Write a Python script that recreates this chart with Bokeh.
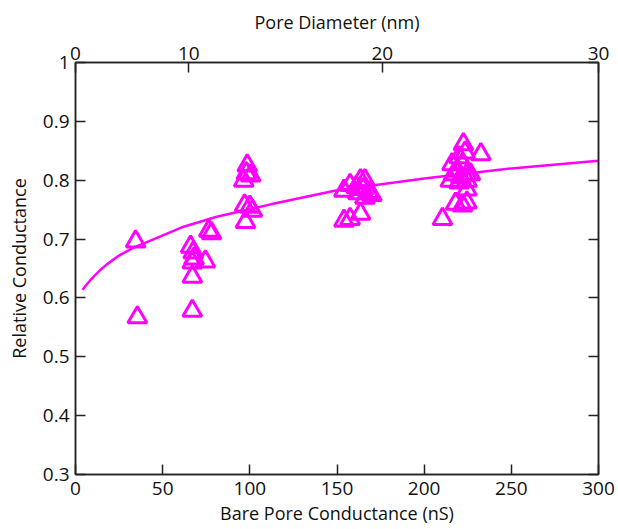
from bokeh.plotting import figure
from bokeh.models import LinearAxis, FixedTicker, Range1d, ColumnDataSource, CustomJSTickFormatter
from bokeh.embed import file_html
from bokeh.resources import INLINE

# measured points (Bare pore conductance nS, relative conductance)
gx = [34.5, 35.5, 67, 67, 66, 67.5, 68, 74.5, 76.5, 78, 67,
      98.5, 98, 100.5, 96.5, 97, 100, 101.5, 97.5,
      154, 157.5, 163.5, 154, 157.5, 163.5, 166, 161, 165, 168, 170, 166, 162,
      210.5, 218, 222, 224.5, 224.5, 222.5, 232.5, 223.5, 220, 216, 219, 222,
      217, 221, 224.5, 215, 220, 224.5, 226.5]
gy = [0.696, 0.567, 0.578, 0.636, 0.687, 0.677, 0.667, 0.662, 0.714, 0.71, 0.66,
      0.825, 0.812, 0.808, 0.799, 0.757, 0.755, 0.748, 0.729,
      0.731, 0.734, 0.743, 0.782, 0.792, 0.800, 0.800, 0.788, 0.785, 0.780, 0.775, 0.770, 0.778,
      0.734, 0.760, 0.757, 0.762, 0.784, 0.861, 0.844, 0.847, 0.839, 0.827, 0.816, 0.827,
      0.810, 0.805, 0.810, 0.799, 0.796, 0.799, 0.810]

# fit curve
fx = [4, 7, 10, 14, 18, 25, 33, 45, 62, 81, 112, 150, 200, 250, 300]
fy = [0.614, 0.625, 0.635, 0.647, 0.657, 0.672, 0.685, 0.700, 0.721, 0.738,
      0.759, 0.783, 0.803, 0.820, 0.833]

# axis ticks
x_ticks = [0, 50, 100, 150, 200, 250, 300]
y_ticks = [0.3, 0.4, 0.5, 0.6, 0.7, 0.8, 0.9, 1.0]
# top axis: pore diameter tick labels and their conductance positions
pore_labels = ["0", "10", "20", "30"]
pore_pos = [0, 65, 176, 300]

FONT = "Open Sans"
MAG = "#FF00FF"
INK = "#222222"

p = figure(width=618, height=529, output_backend="svg", toolbar_location=None,
           x_range=Range1d(0, 300), y_range=Range1d(0.3, 1.0),
           frame_width=523, frame_height=412,
           min_border_left=75, min_border_right=20, min_border_top=62, min_border_bottom=55,
           x_axis_label="Bare Pore Conductance (nS)", y_axis_label="Relative Conductance")
p.grid.visible = False
p.outline_line_color = INK
p.outline_line_width = 1.5

p.line(fx, fy, line_color=MAG, line_width=2.5)
src = ColumnDataSource(dict(x=gx, y=gy))
p.scatter("x", "y", source=src, marker="triangle", size=19, fill_color=None,
          line_color=MAG, line_width=3)

bottom = p.below[0]
left = p.left[0]
bottom.ticker = FixedTicker(ticks=x_ticks)
left.ticker = FixedTicker(ticks=y_ticks)
left.major_label_overrides = {1.0: "1"}

top = LinearAxis(axis_label="Pore Diameter (nm)",
                 ticker=FixedTicker(ticks=pore_pos),
                 major_label_overrides={pos: lab for pos, lab in zip(pore_pos, pore_labels)})
p.add_layout(top, "above")
right = LinearAxis(ticker=FixedTicker(ticks=y_ticks),
                   formatter=CustomJSTickFormatter(code="return '';"))
p.add_layout(right, "right")

for ax in [bottom, left, top, right]:
    ax.major_tick_in = 10
    ax.major_tick_out = 0
    ax.minor_tick_in = 0
    ax.minor_tick_out = 0
    ax.axis_line_color = INK
    ax.axis_line_width = 1.5
    ax.major_tick_line_color = INK
    ax.major_tick_line_width = 1.5
    ax.major_label_text_font = FONT
    ax.major_label_text_font_size = "19px"
    ax.major_label_text_color = "#111111"
    ax.axis_label_text_font = FONT
    ax.axis_label_text_font_size = "18px"
    ax.axis_label_text_font_style = "normal"
    ax.axis_label_text_color = "#111111"
    ax.major_label_standoff = 4
    ax.axis_label_standoff = 4
left.major_label_standoff = 6
left.axis_label_standoff = 9
bottom.major_label_standoff = 7
bottom.axis_label_standoff = 3
top.major_label_standoff = 3
top.axis_label_standoff = 10

open("out.html", "w").write(file_html(p, INLINE))
